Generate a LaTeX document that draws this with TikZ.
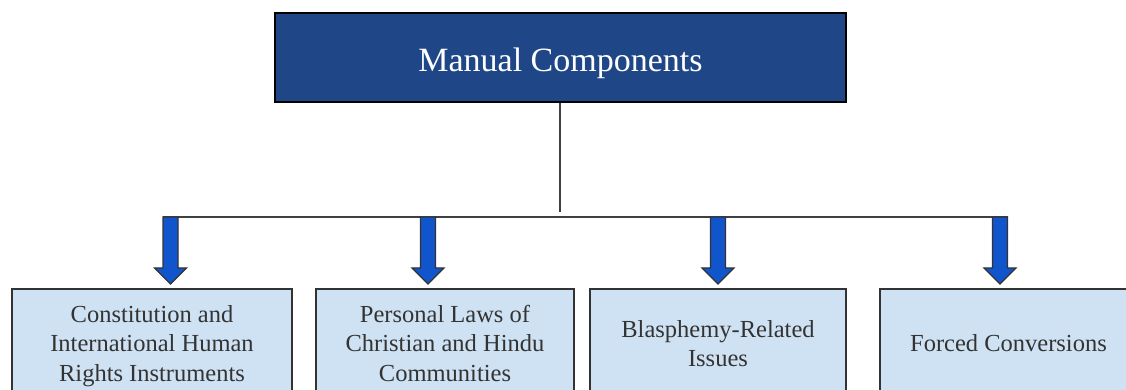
\documentclass[tikz,border=0pt]{standalone}
\usepackage{fontspec}
\setmainfont{Liberation Serif}
\usepackage{tikz}
\usetikzlibrary{calc}

\definecolor{topblue}{HTML}{1F4788}
\definecolor{boxblue}{HTML}{CFE2F3}
\definecolor{arrowblue}{HTML}{1155CC}
\definecolor{textgray}{HTML}{333333}

\begin{document}
\begin{tikzpicture}[x=0.5pt,y=-0.5pt,
    topbox/.style={draw=black,fill=topblue,line width=1pt,text=white,
        minimum width=285.5pt,minimum height=44.5pt,inner sep=0pt,
        text height=14pt,text depth=0pt,
        font=\fontsize{17}{20}\selectfont},
    subbox/.style={draw=textgray,fill=boxblue,line width=0.75pt,text=textgray,
        align=center,minimum height=57pt,inner sep=0pt,text depth=2.75pt,
        font=\fontsize{12.25}{14.75}\selectfont},
    link/.style={draw=black!75,line width=0.75pt},
    blockarrow/.style={draw=black!80,fill=arrowblue,line width=0.6pt,line join=miter,
        to path={($(\tikztostart)+(-7.5,0)$) -- ($(\tikztotarget)+(-7.5,-16)$)
            -- ($(\tikztotarget)+(-16,-16)$) -- (\tikztotarget)
            -- ($(\tikztotarget)+(16,-16)$) -- ($(\tikztotarget)+(7.5,-16)$)
            -- ($(\tikztostart)+(7.5,0)$) -- cycle}}]
    \clip (0,0) rectangle (1126,390);

    \node (manual) [topbox] at (560.5,57.5) {Manual Components};

    \node (constitution) [subbox,minimum width=140pt] at (152,346)
        {Constitution and\\International Human\\Rights Instruments};
    \node (personal) [subbox,minimum width=129pt] at (445,346)
        {Personal Laws of\\Christian and Hindu\\Communities};
    \node (blasphemy) [subbox,minimum width=128pt] at (718,346)
        {Blasphemy-Related\\Issues};
    \node (forced) [subbox,minimum width=128.5pt] at (1008.5,346)
        {Forced Conversions};

    \coordinate (junction) at (560,212);
    \coordinate (s1) at (170.5,217);
    \coordinate (s2) at (428,217);
    \coordinate (s3) at (718,217);
    \coordinate (s4) at (1000,217);
    \coordinate (t1) at (170.5,284);
    \coordinate (t2) at (428,284);
    \coordinate (t3) at (718,284);
    \coordinate (t4) at (1000,284);

    % trunk and bar
    \draw[link] (manual.south -| junction) -- (junction);
    \draw[link] ([xshift=-3.75pt]s1) -- ([xshift=3.75pt]s4);

    \draw[blockarrow] (s1) to (t1);
    \draw[blockarrow] (s2) to (t2);
    \draw[blockarrow] (s3) to (t3);
    \draw[blockarrow] (s4) to (t4);
\end{tikzpicture}
\end{document}
